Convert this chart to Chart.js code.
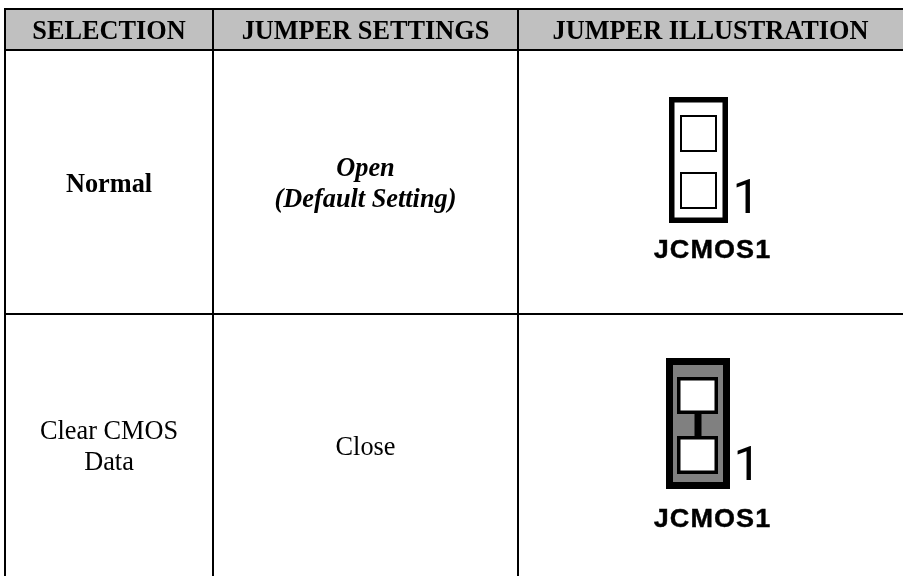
<!DOCTYPE html>
<html>
<head>
<meta charset="utf-8">
<title>JCMOS1 jumper table</title>
<script src="https://cdn.jsdelivr.net/npm/chart.js@4"></script>
<style>
  html, body { margin: 0; padding: 0; background: #ffffff; }
  canvas { display: block; }
</style>
</head>
<body>
<canvas id="table-canvas" width="903" height="576"></canvas>
<script>
const headerLabels = ["SELECTION", "JUMPER SETTINGS", "JUMPER ILLUSTRATION"];
const selectionLabels = [["Normal"], ["Clear CMOS", "Data"]];
const settingLabels = [["Open", "(Default Setting)"], ["Close"]];
const jumperNames = ["JCMOS1", "JCMOS1"];
const pinOneLabels = ["1", "1"];

// table lines, in page units
const columnEdges = [5, 213, 518, 903];
const rowEdges = [9, 50, 314, 576];

// illustration boxes: left, top, right, bottom (outer edge)
const frameBoxes = [[669, 97, 728, 223], [666, 358, 730, 489]];
const frameFills = ["#ffffff", "#808080"];
const frameWidths = [5.5, 7];
const pinBoxes = [
  [[680, 115, 717, 152], [680, 172, 717, 209]],
  [[677, 377, 718, 414], [677, 436, 718, 474]],
];
const pinWidths = [2, 3.5];
const linkX = 698;
const linkEnds = [414, 436];
const pinOneSpots = [[732.5, 213], [733.5, 480]];
const nameSpots = [[712.5, 258], [712.5, 526.5]];

function outlinePoints(box, width) {
  const [x0, y0, x1, y1] = box;
  const inset = width / 2;
  return [
    { x: x0 + inset, y: y0 + inset },
    { x: x1 - inset, y: y0 + inset },
    { x: x1 - inset, y: y1 - inset },
    { x: x0 + inset, y: y1 - inset },
    { x: x0 + inset, y: y0 + inset },
  ];
}

function boxDataset(box, width, fillColor) {
  return {
    data: outlinePoints(box, width),
    borderColor: "#000000",
    borderWidth: width,
    borderJoinStyle: "miter",
    borderCapStyle: "square",
    backgroundColor: fillColor,
    fill: "shape",
    pointRadius: 0,
    tension: 0,
  };
}

function buildDatasets() {
  const datasets = [
    {
      data: [{ x: columnEdges[0], y: rowEdges[0] }, { x: columnEdges[3], y: rowEdges[0] }],
      borderWidth: 0,
      backgroundColor: "#c0c0c0",
      fill: { value: rowEdges[1] },
      pointRadius: 0,
    },
  ];
  frameBoxes.forEach((box, index) => {
    datasets.push(boxDataset(box, frameWidths[index], frameFills[index]));
    pinBoxes[index].forEach((pin) => {
      datasets.push(boxDataset(pin, pinWidths[index], "#ffffff"));
    });
  });
  datasets.push({
    data: linkEnds.map((y) => ({ x: linkX, y })),
    borderColor: "#000000",
    borderWidth: 7,
    pointRadius: 0,
  });
  datasets.forEach((dataset, index) => {
    dataset.order = -index;
  });
  return datasets;
}

const tableTextPlugin = {
  id: "tableText",
  afterDraw(chart) {
    const { ctx, scales } = chart;
    const center = (edges, index) => (edges[index] + edges[index + 1]) / 2;
    const lineGap = 30.5;

    function writeCell(lines, column, row, font) {
      const x = scales.x.getPixelForValue(center(columnEdges, column));
      const middle = scales.y.getPixelForValue(center(rowEdges, row)) + 9.5;
      ctx.font = font;
      ctx.textAlign = "center";
      ctx.textBaseline = "alphabetic";
      lines.forEach((line, index) => {
        ctx.fillText(line, x, middle + (index - (lines.length - 1) / 2) * lineGap);
      });
    }

    ctx.save();
    ctx.fillStyle = "#000000";
    headerLabels.forEach((label, column) => {
      writeCell([label], column, 0, "bold 26.3px 'Liberation Serif'");
    });
    writeCell(selectionLabels[0], 0, 1, "bold 26.3px 'Liberation Serif'");
    writeCell(selectionLabels[1], 0, 2, "26.3px 'Liberation Serif'");
    writeCell(settingLabels[0], 1, 1, "italic bold 26.3px 'Liberation Serif'");
    writeCell(settingLabels[1], 1, 2, "26.3px 'Liberation Serif'");

    pinOneLabels.forEach((label, index) => {
      const [x, y] = pinOneSpots[index];
      ctx.font = "49px Roboto";
      ctx.textAlign = "left";
      ctx.fillText(label, scales.x.getPixelForValue(x), scales.y.getPixelForValue(y));
    });

    // the name is wider and heavier than plain bold in the reference
    jumperNames.forEach((name, index) => {
      const [x, y] = nameSpots[index];
      ctx.save();
      ctx.translate(scales.x.getPixelForValue(x), scales.y.getPixelForValue(y));
      ctx.scale(1.06, 1);
      ctx.font = "bold 25.5px 'Liberation Sans'";
      ctx.letterSpacing = "1px";
      ctx.textAlign = "center";
      ctx.strokeStyle = "#000000";
      ctx.lineWidth = 0.4;
      ctx.fillText(name, 0, 0);
      ctx.strokeText(name, 0, 0);
      ctx.restore();
    });
    ctx.restore();
  },
};

const lineGrid = { color: "#000000", lineWidth: 2, tickLength: 1, z: 1 };

new Chart(document.querySelector("#table-canvas"), {
  type: "line",
  data: { datasets: buildDatasets() },
  plugins: [tableTextPlugin],
  options: {
    responsive: false,
    animation: false,
    events: [],
    layout: { padding: { left: 4, top: 8, right: 0, bottom: 0 } },
    plugins: { legend: { display: false }, tooltip: { enabled: false } },
    scales: {
      x: {
        type: "linear",
        position: "top",
        min: columnEdges[0],
        max: columnEdges[3],
        grid: lineGrid,
        border: { display: false },
        ticks: { display: false },
        afterBuildTicks(axis) {
          axis.ticks = columnEdges.slice(0, 3).map((value) => ({ value }));
        },
      },
      y: {
        type: "linear",
        reverse: true,
        min: rowEdges[0],
        max: rowEdges[3],
        grid: lineGrid,
        border: { display: false },
        ticks: { display: false },
        afterBuildTicks(axis) {
          axis.ticks = rowEdges.slice(0, 3).map((value) => ({ value }));
        },
      },
    },
  },
});
</script>
</body>
</html>
